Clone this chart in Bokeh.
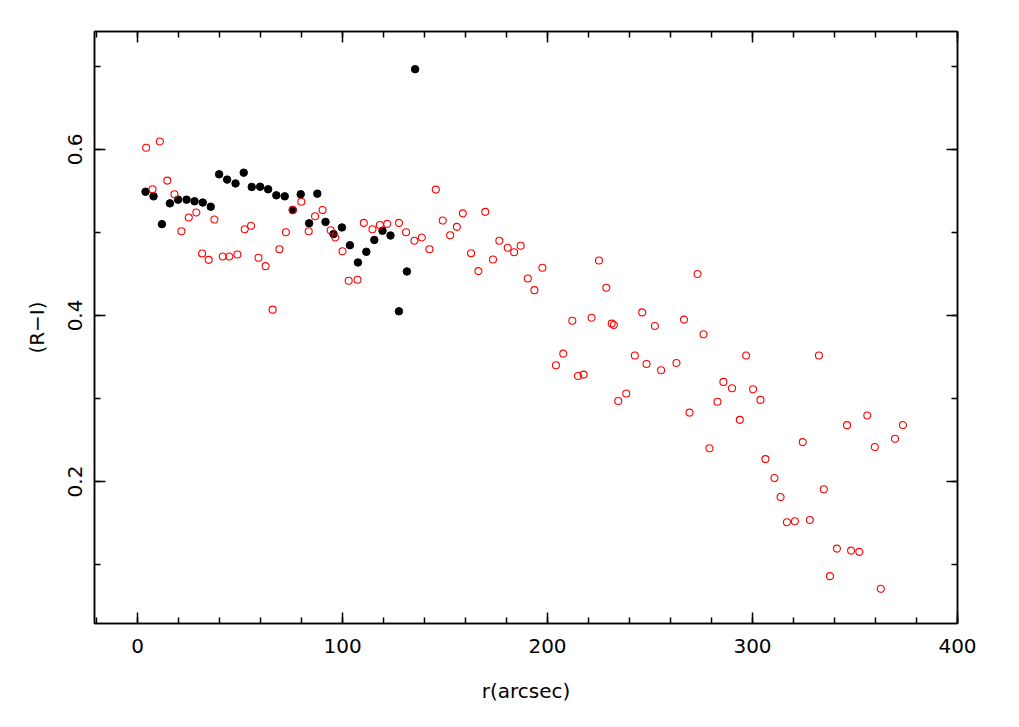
from bokeh.plotting import figure
from bokeh.models import LinearAxis, Range1d, FixedTicker, CustomJSTickFormatter
from bokeh.embed import file_html
from bokeh.resources import INLINE

# Black filled points (series 1)
r_black = [3.9, 7.8, 11.9, 15.8, 19.8, 23.9, 27.8, 31.8, 35.7, 39.8, 43.7, 47.8,
           51.8, 55.7, 59.8, 63.7, 67.7, 71.8, 75.7, 79.6, 83.7, 87.7, 91.7, 95.6,
           99.7, 103.6, 107.5, 111.6, 115.5, 119.5, 123.4, 127.5, 131.4, 135.4]
ri_black = [0.549, 0.5435, 0.510, 0.535, 0.5395, 0.5395, 0.5375, 0.536, 0.531, 0.570,
            0.5636, 0.559, 0.572, 0.5548, 0.555, 0.552, 0.5447, 0.5435, 0.527, 0.546,
            0.511, 0.5467, 0.5127, 0.498, 0.506, 0.4846, 0.4638, 0.4767, 0.491, 0.502,
            0.4963, 0.405, 0.453, 0.6966]

# Red open circles (series 2)
r_red = [4.2, 7.3, 10.9, 14.5, 18.0, 21.4, 25.0, 28.7, 31.5, 34.7, 37.5, 41.6, 44.8,
         48.7, 52.3, 55.4, 59.0, 62.5, 65.9, 69.2, 72.4, 75.7, 79.9, 83.5, 86.6, 90.3,
         94.2, 96.5, 100.0, 103.0, 107.3, 110.4, 114.6, 118.2, 121.8, 127.6, 131.0,
         135.1, 138.7, 142.4, 145.5, 148.9, 152.5, 155.8, 158.7, 162.7, 166.3, 169.6,
         173.4, 176.5, 180.6, 183.7, 186.9, 190.4, 193.6, 197.5, 204.1, 207.7, 212.1,
         214.9, 217.6, 221.5, 225.1, 228.7, 231.3, 232.4, 234.5, 238.4, 242.6, 246.2,
         248.3, 252.4, 255.4, 262.9, 266.6, 269.3, 273.2, 276.1, 279.0, 282.9, 285.8,
         290.0, 293.8, 296.9, 300.3, 303.9, 306.3, 310.7, 313.7, 316.8, 320.7, 324.5,
         328.0, 332.4, 334.8, 337.8, 341.2, 346.1, 348.1, 352.1, 356.0, 359.7, 362.6,
         369.5, 373.4]
ri_red = [0.602, 0.552, 0.6096, 0.5624, 0.546, 0.5014, 0.518, 0.524, 0.4746, 0.467,
          0.5155, 0.471, 0.471, 0.4734, 0.5038, 0.508, 0.4695, 0.4594, 0.407, 0.4798,
          0.5003, 0.527, 0.537, 0.5014, 0.5195, 0.527, 0.5026, 0.4939, 0.4774, 0.4418,
          0.443, 0.5115, 0.5038, 0.509, 0.5103, 0.5115, 0.5003, 0.490, 0.4939, 0.4798,
          0.5516, 0.5143, 0.4966, 0.5067, 0.523, 0.475, 0.4534, 0.5248, 0.4674, 0.490,
          0.4815, 0.4762, 0.4839, 0.4446, 0.4305, 0.4575, 0.340, 0.354, 0.3937, 0.327,
          0.3288, 0.3973, 0.4662, 0.4334, 0.3902, 0.3885, 0.297, 0.306, 0.3517, 0.4037,
          0.3416, 0.3873, 0.334, 0.3428, 0.395, 0.283, 0.450, 0.3773, 0.240, 0.296,
          0.320, 0.3124, 0.2743, 0.3517, 0.3112, 0.2983, 0.227, 0.2042, 0.1813, 0.151,
          0.1522, 0.2475, 0.1537, 0.3517, 0.1906, 0.086, 0.1192, 0.2679, 0.1168, 0.1153,
          0.2796, 0.2415, 0.0708, 0.2515, 0.268]

x_ticks = [0, 100, 200, 300, 400]
y_ticks = [0.2, 0.4, 0.6]
x_minor = [v for v in range(-20, 401, 20)]
y_minor = [0.1, 0.2, 0.3, 0.4, 0.5, 0.6, 0.7]

FONT = "DejaVu Sans"

p = figure(width=1000, height=710, output_backend="svg", toolbar_location=None,
           x_range=Range1d(-21, 400), y_range=Range1d(0.029, 0.742),
           x_axis_location=None, y_axis_location=None,
           min_border_left=94, min_border_right=43, min_border_top=31, min_border_bottom=87)
p.xgrid.visible = False
p.ygrid.visible = False
p.outline_line_color = "black"
p.outline_line_width = 1.5
p.background_fill_color = "white"
p.border_fill_color = "white"

def style_axis(ax, ticks, minor, show_labels, label=None):
    ax.ticker = FixedTicker(ticks=ticks, minor_ticks=minor)
    ax.major_tick_out = 0
    ax.major_tick_in = 11
    ax.minor_tick_out = 0
    ax.minor_tick_in = 6
    ax.axis_line_color = "black"
    ax.axis_line_width = 1.5
    ax.major_tick_line_width = 1.5
    ax.minor_tick_line_width = 1.5
    ax.major_tick_line_color = "black"
    ax.minor_tick_line_color = "black"
    ax.major_label_text_font = FONT
    ax.major_label_text_font_size = "20px"
    ax.major_label_text_color = "black"
    if not show_labels:
        ax.formatter = CustomJSTickFormatter(code="return ''")
        ax.major_label_text_font_size = "1px"
    if label:
        ax.axis_label = label
        ax.axis_label_text_font = FONT
        ax.axis_label_text_font_size = "20px"
        ax.axis_label_text_font_style = "normal"
        ax.axis_label_text_color = "black"

xb = LinearAxis()
style_axis(xb, x_ticks, x_minor, True, "r(arcsec)")
xb.major_label_standoff = 15
xb.axis_label_standoff = 23
p.add_layout(xb, "below")

yl = LinearAxis()
style_axis(yl, y_ticks, y_minor, True, "(R\u2212I)")
yl.major_label_orientation = "vertical"
yl.major_label_standoff = 12
yl.axis_label_standoff = 17
p.add_layout(yl, "left")

xt = LinearAxis()
style_axis(xt, x_ticks, x_minor, False)
xt.major_label_standoff = 0
p.add_layout(xt, "above")

yr = LinearAxis()
style_axis(yr, y_ticks, y_minor, False)
yr.major_label_standoff = 0
p.add_layout(yr, "right")

p.scatter(r_black, ri_black, marker="circle", size=7.5, fill_color="black",
          line_color="black", line_width=1)
p.scatter(r_red, ri_red, marker="circle", size=7, fill_color=None,
          line_color="red", line_width=1.1)

open("out.html", "w").write(file_html(p, INLINE))
